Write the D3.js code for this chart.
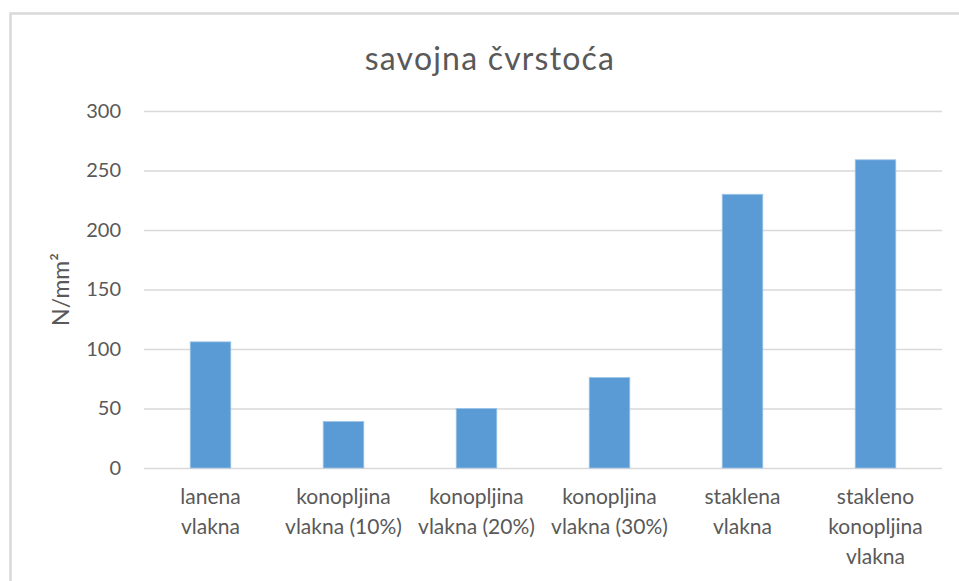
<!DOCTYPE html>
<html>
<head>
<meta charset="utf-8">
<script src="https://cdn.jsdelivr.net/npm/d3@7"></script>
<style>
	body { margin: 0; background: #fff; }
	svg { display: block; font-family: Lato, "Open Sans", sans-serif; }
</style>
</head>
<body>
<div id="chart"></div>
<script>
// data
const categories = [
	'lanena\nvlakna',
	'konopljina\nvlakna (10%)',
	'konopljina\nvlakna (20%)',
	'konopljina\nvlakna (30%)',
	'staklena\nvlakna',
	'stakleno\nkonopljina\nvlakna'
]
const values = [106, 39, 50, 76, 230, 259]
const yTicks = [0, 50, 100, 150, 200, 250, 300]

const width = 959
const height = 581
const margin = { top: 111, right: 17, bottom: 113, left: 144 }
const chartWidth = width - margin.left - margin.right
const chartHeight = height - margin.top - margin.bottom
const textColor = '#595959'
const gridColor = '#d9d9d9'

const svg = d3.select('#chart')
	.append('svg')
	.attr('width', width)
	.attr('height', height)

// chart area border
svg.append('rect')
	.attr('x', 10.5)
	.attr('y', 13.5)
	.attr('width', width + 10)
	.attr('height', height + 10)
	.attr('fill', '#fff')
	.attr('stroke', gridColor)
	.attr('stroke-width', 2.5)

// title
svg.append('text')
	.attr('x', 490)
	.attr('y', 70)
	.attr('text-anchor', 'middle')
	.attr('fill', textColor)
	.style('font-size', '32px')
	.style('letter-spacing', '1.2px')
	.text('savojna čvrstoća')

const chart = svg.append('g')
	.attr('transform', `translate(${margin.left},${margin.top})`)

const x = d3.scaleBand()
	.domain(categories)
	.range([0, chartWidth])
	.paddingInner(0.695)
	.paddingOuter(0.3475)

const y = d3.scaleLinear()
	.domain([0, 300])
	.range([chartHeight, 0])

// gridlines + y labels
const yAxis = chart.append('g')
	.call(d3.axisLeft(y).tickValues(yTicks).tickSize(-chartWidth).tickPadding(23))

yAxis.select('.domain').remove()
yAxis.selectAll('.tick line')
	.attr('stroke', gridColor)
	.attr('stroke-width', 1.3)
yAxis.selectAll('.tick text')
	.attr('fill', textColor)
	.style('font-size', '20px')
	.style('font-family', 'Lato, sans-serif')

// bars
chart.append('g')
	.selectAll('rect')
	.data(values)
	.join('rect')
	.attr('x', (d, i) => x(categories[i]))
	.attr('y', d => y(d))
	.attr('width', x.bandwidth())
	.attr('height', d => chartHeight - y(d))
	.attr('fill', '#5b9bd5')
	.attr('stroke', '#9cc3e6')
	.attr('stroke-width', 0.8)

// category labels
const xLabels = chart.append('g')
	.attr('transform', `translate(0,${chartHeight})`)
	.selectAll('text')
	.data(categories)
	.join('text')
	.attr('x', d => x(d) + x.bandwidth() / 2)
	.attr('y', 36)
	.attr('text-anchor', 'middle')
	.attr('fill', textColor)
	.style('font-size', '21px')

xLabels.selectAll('tspan')
	.data(d => d.split('\n'))
	.join('tspan')
	.attr('x', function () { return d3.select(this.parentNode).attr('x') })
	.attr('dy', (d, i) => i === 0 ? 0 : 30)
	.text(d => d)

// y axis title
svg.append('text')
	.attr('transform', `translate(69,${margin.top + chartHeight / 2}) rotate(-90)`)
	.attr('text-anchor', 'middle')
	.attr('fill', textColor)
	.style('font-size', '23px')
	.text('N/mm²')
</script>
</body>
</html>
